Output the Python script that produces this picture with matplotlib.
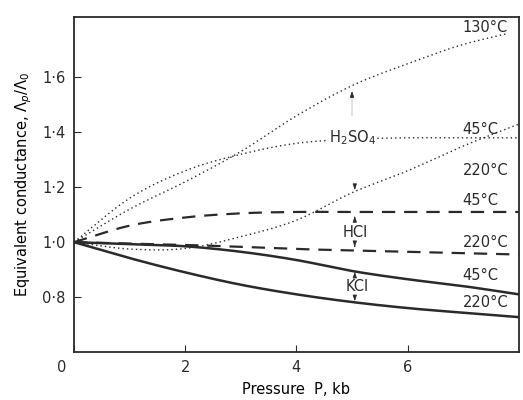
import matplotlib.pyplot as plt
import matplotlib.transforms as mtransforms
import numpy as np

# Pressure (kb) grid for all curves
p = [0, 1, 2, 3, 4, 5, 6, 7, 8]

# H2SO4 (dotted)
p_130 = [0, 1, 2, 3, 4, 5, 6, 7, 7.8]
h2so4_130 = [1.00, 1.12, 1.22, 1.33, 1.46, 1.57, 1.65, 1.72, 1.76]
h2so4_45 = [1.00, 1.16, 1.26, 1.32, 1.36, 1.375, 1.38, 1.38, 1.38]
h2so4_220 = [1.00, 0.975, 0.977, 1.02, 1.08, 1.18, 1.26, 1.35, 1.43]

# HCl (dashed)
hcl_45 = [1.00, 1.06, 1.09, 1.105, 1.11, 1.11, 1.11, 1.11, 1.11]
hcl_220 = [1.00, 0.995, 0.99, 0.983, 0.975, 0.97, 0.965, 0.96, 0.955]

# KCl (solid)
kcl_45 = [1.00, 0.993, 0.985, 0.965, 0.935, 0.895, 0.865, 0.84, 0.81]
kcl_220 = [1.00, 0.942, 0.89, 0.845, 0.81, 0.782, 0.76, 0.743, 0.727]

ink = "#2a2a2a"
plt.rcParams["font.family"] = "DejaVu Sans"
plt.rcParams["text.color"] = ink

fig = plt.figure(figsize=(5.23, 4.0), dpi=100)
ax = fig.add_axes([0.1415, 0.12, 0.8505, 0.8375])


def smooth(x, y, n=30):
    # cubic Hermite through the read points (hand-drawn look)
    x = np.asarray(x, float)
    y = np.asarray(y, float)
    m = np.gradient(y, x)
    xs, ys = [], []
    for i in range(len(x) - 1):
        h = x[i + 1] - x[i]
        t = np.linspace(0, 1, n, endpoint=False)
        h00 = 2 * t**3 - 3 * t**2 + 1
        h10 = t**3 - 2 * t**2 + t
        h01 = -2 * t**3 + 3 * t**2
        h11 = t**3 - t**2
        xs.append(x[i] + t * h)
        ys.append(h00 * y[i] + h10 * h * m[i] + h01 * y[i + 1] + h11 * h * m[i + 1])
    xs.append([x[-1]])
    ys.append([y[-1]])
    return np.concatenate(xs), np.concatenate(ys)


dotted = dict(color=ink, lw=1.0, linestyle=(0, (1, 2.2)))
dashed = dict(color=ink, lw=1.6, linestyle=(0, (6, 4)))
solid = dict(color=ink, lw=1.8)

ax.plot(*smooth(p_130, h2so4_130), **dotted)
ax.plot(*smooth(p, h2so4_45), **dotted)
ax.plot(*smooth(p, h2so4_220), **dotted)
ax.plot(*smooth(p, hcl_45), **dashed)
ax.plot(*smooth(p, hcl_220), **dashed)
ax.plot(*smooth(p, kcl_45), **solid)
ax.plot(*smooth(p, kcl_220), **solid)

# small arrows pointing at the curves of each electrolyte
arrow = dict(arrowstyle="-|>,head_width=0.12,head_length=0.35", color=ink, lw=0.6)
ax.annotate("", xy=(5.0, 1.56), xytext=(5.0, 1.45), arrowprops=dict(arrow, color="#bbbbbb"))
ax.annotate("", xy=(5.0, 1.56), xytext=(5.0, 1.52), arrowprops=arrow)
ax.annotate("", xy=(5.05, 1.18), xytext=(5.05, 1.22), arrowprops=arrow)
ax.annotate("", xy=(5.05, 1.105), xytext=(5.05, 1.08), arrowprops=arrow)
ax.annotate("", xy=(5.05, 0.972), xytext=(5.05, 0.995), arrowprops=arrow)
ax.annotate("", xy=(5.05, 0.892), xytext=(5.05, 0.872), arrowprops=arrow)
ax.annotate("", xy=(5.05, 0.785), xytext=(5.05, 0.805), arrowprops=arrow)

ax.text(5.0, 1.38, r"H$_2$SO$_4$", fontsize=10.5, ha="center", va="center",
        bbox=dict(fc="white", ec="none", pad=0.5))
ax.text(5.05, 1.035, "HCl", fontsize=10.5, ha="center", va="center")
ax.text(5.1, 0.838, "KCl", fontsize=10.5, ha="center", va="center")

labels = [
    (7.4, 1.78, "130°C"),
    (7.3, 1.41, "45°C"),
    (7.4, 1.26, "220°C"),
    (7.3, 1.15, "45°C"),
    (7.4, 0.998, "220°C"),
    (7.3, 0.88, "45°C"),
    (7.4, 0.78, "220°C"),
]
for x, y, s in labels:
    ax.text(x, y, s, fontsize=10.5, ha="center", va="center")

ax.set_xlim(0, 8)
ax.set_ylim(0.6, 1.82)
ax.set_yticks([0.8, 1.0, 1.2, 1.4, 1.6])
ax.set_yticklabels(["0·8", "1·0", "1·2", "1·4", "1·6"])
ax.set_xticks([0, 2, 4, 6])
ax.set_xticklabels(["0", "2", "4", "6"])
ax.tick_params(direction="in", length=5, width=0.8, colors=ink, labelsize=10.5, pad=6)
lab0 = ax.get_xticklabels()[0]
lab0.set_transform(lab0.get_transform() + mtransforms.ScaledTranslation(-0.12, 0, fig.dpi_scale_trans))

for s in ax.spines.values():
    s.set_color(ink)
    s.set_linewidth(1.3)

ax.set_xlabel("Pressure  P, kb", fontsize=10.5, labelpad=5)
ax.set_ylabel(r"Equivalent conductance, $\Lambda_p/\Lambda_0$", fontsize=10.5, labelpad=6)

fig.savefig("out.png", dpi=100)
